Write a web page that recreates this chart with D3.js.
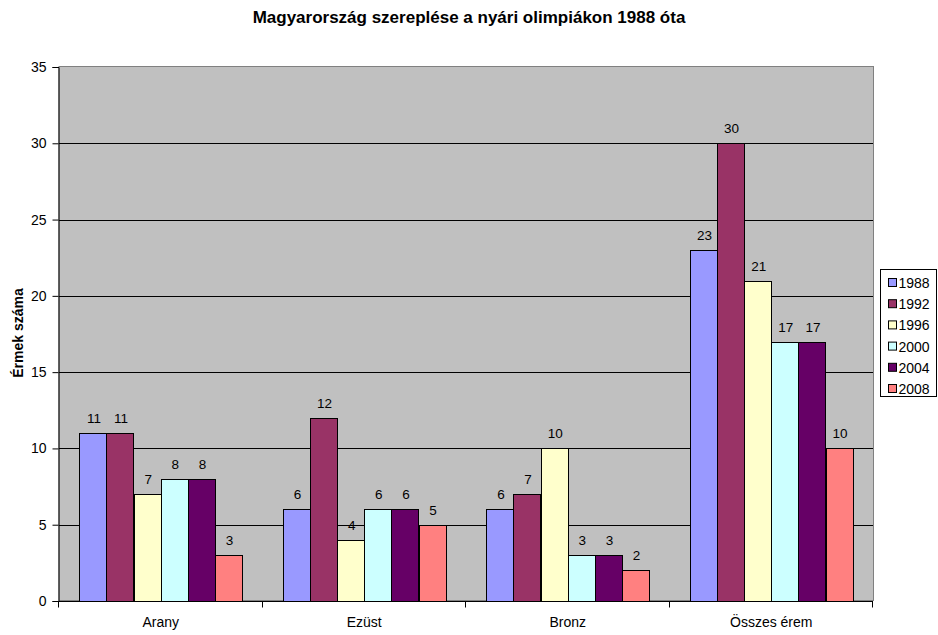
<!DOCTYPE html>
<html>
<head>
<meta charset="utf-8">
<script src="https://cdn.jsdelivr.net/npm/d3@7"></script>
<style>
  body { margin: 0; background: #fff; }
  text { font-family: Arial, "Liberation Sans", sans-serif; fill: #000; }
</style>
</head>
<body>
<div id="chart"></div>
<script>
// data
const categories = ["Arany", "Ezüst", "Bronz", "Összes érem"];
const years = ["1988", "1992", "1996", "2000", "2004", "2008"];
const medals1988 = [11, 6, 6, 23];
const medals1992 = [11, 12, 7, 30];
const medals1996 = [7, 4, 10, 21];
const medals2000 = [8, 6, 3, 17];
const medals2004 = [8, 6, 3, 17];
const medals2008 = [3, 5, 2, 10];
const yTicks = [0, 5, 10, 15, 20, 25, 30, 35];

const seriesValues = [medals1988, medals1992, medals1996, medals2000, medals2004, medals2008];
const colors = ["#9999ff", "#993366", "#ffffcc", "#ccffff", "#660066", "#ff8080"];

let W = 938, H = 635;
let plot = {left: 59, right: 873, top: 67, bottom: 601};
let fontFamily = "Arial, 'Liberation Sans', sans-serif";

const svg = d3.select("#chart").append("svg")
  .attr("width", W).attr("height", H);

const scaleX = d3.scaleBand()
  .domain(categories)
  .range([plot.left, plot.right]);

const scaleY = d3.scaleLinear()
  .domain([0, 35])
  .range([plot.bottom, plot.top]);

// plot background
svg.append("rect")
  .attr("x", plot.left).attr("y", plot.top - 0.5)
  .attr("width", plot.right - plot.left + 0.5).attr("height", plot.bottom - plot.top)
  .attr("fill", "#c0c0c0")
  .attr("stroke", "#808080");

// gridlines
svg.append("g").selectAll("line")
  .data(yTicks.filter(d => d > 0 && d < 35))
  .join("line")
  .attr("x1", plot.left).attr("x2", plot.right)
  .attr("y1", d => Math.round(scaleY(d)) + 0.5)
  .attr("y2", d => Math.round(scaleY(d)) + 0.5)
  .attr("stroke", "#000");

// bars
const inner = d3.scaleBand()
  .domain(years)
  .range([0, scaleX.bandwidth()])
  .paddingOuter(0.75)
  .paddingInner(0);

const rows = [];
categories.forEach((c, ci) => {
  years.forEach((y, yi) => {
    rows.push({cat: c, year: y, value: seriesValues[yi][ci], color: colors[yi]});
  });
});

const bars = svg.append("g");
bars.selectAll("rect")
  .data(rows)
  .join("rect")
  .attr("x", d => Math.round(scaleX(d.cat) + inner(d.year)) + 0.5)
  .attr("y", d => Math.round(scaleY(d.value)) + 0.5)
  .attr("width", Math.round(inner.bandwidth()))
  .attr("height", d => Math.round(scaleY(0)) - Math.round(scaleY(d.value)))
  .attr("fill", d => d.color)
  .attr("stroke", "#000")
  .attr("stroke-width", 1);

// value labels
bars.selectAll("text")
  .data(rows)
  .join("text")
  .attr("x", d => scaleX(d.cat) + inner(d.year) + inner.bandwidth() / 2 + 1)
  .attr("y", d => scaleY(d.value) - 10)
  .attr("text-anchor", "middle")
  .attr("font-size", 13.5)
  .text(d => d.value);

// y axis
const axisY = d3.axisLeft(scaleY)
  .tickValues(yTicks)
  .tickSize(6)
  .tickPadding(6);

svg.append("g")
  .attr("transform", `translate(${plot.left - 0.5},0)`)
  .call(axisY)
  .call(g => g.selectAll(".tick text").attr("font-size", 14).attr("font-family", fontFamily))
  .call(g => g.selectAll("line, path").attr("stroke", "#000"));

// x axis
const axisX = d3.axisBottom(scaleX)
  .tickSize(0)
  .tickPadding(16);

const gx = svg.append("g")
  .attr("transform", `translate(0,${plot.bottom + 0.5})`)
  .call(axisX)
  .call(g => g.select(".domain").attr("stroke", "#000").attr("d", `M${plot.left - 6},0H${plot.right}`))
  .call(g => g.selectAll(".tick text").attr("font-size", 14).attr("font-family", fontFamily));

// category boundary ticks
gx.append("g").selectAll("line")
  .data(categories.concat(["end"]))
  .join("line")
  .attr("x1", (d, i) => Math.round(plot.left + i * scaleX.step()) - 0.5)
  .attr("x2", (d, i) => Math.round(plot.left + i * scaleX.step()) - 0.5)
  .attr("y1", 0).attr("y2", 6)
  .attr("stroke", "#000");

// title
svg.append("text")
  .attr("x", 469).attr("y", 23)
  .attr("text-anchor", "middle")
  .attr("font-weight", "bold")
  .attr("font-size", 17)
  .text("Magyarország szereplése a nyári olimpiákon 1988 óta");

// y axis title
svg.append("text")
  .attr("transform", `translate(23,333) rotate(-90)`)
  .attr("text-anchor", "middle")
  .attr("font-weight", "bold")
  .attr("font-size", 14)
  .text("Érmek száma");

// legend
const legend = svg.append("g").attr("transform", "translate(880.5,269.5)");
legend.append("rect")
  .attr("width", 56).attr("height", 127)
  .attr("fill", "#fff").attr("stroke", "#000");

const item = legend.selectAll("g.item")
  .data(years)
  .join("g")
  .attr("class", "item")
  .attr("transform", (d, i) => `translate(8,${13 + i * 21.2})`);

item.append("rect")
  .attr("x", 0).attr("y", -4)
  .attr("width", 8).attr("height", 8)
  .attr("fill", (d, i) => colors[i])
  .attr("stroke", "#000");

item.append("text")
  .attr("x", 10).attr("y", 5.5)
  .attr("font-size", 14)
  .text(d => d);
</script>
</body>
</html>
